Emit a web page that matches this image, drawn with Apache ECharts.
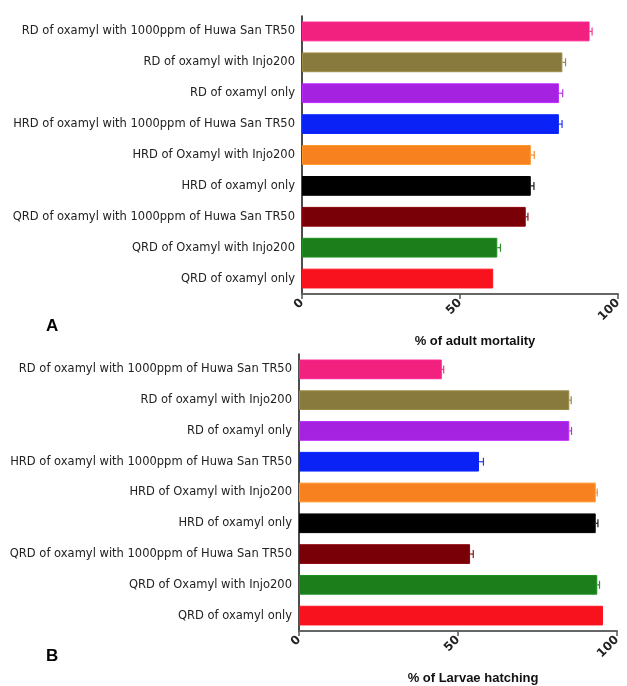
<!DOCTYPE html>
<html>
<head>
<meta charset="utf-8">
<script src="https://cdn.jsdelivr.net/npm/echarts@6/dist/echarts.min.js"></script>
<style>
html,body{margin:0;padding:0;background:#fff;}
#c{width:627px;height:686px;}
</style>
</head>
<body>
<div id="c"></div>
<script>
var categories = [
  'RD of oxamyl with 1000ppm of Huwa San TR50',
  'RD of oxamyl with Injo200',
  'RD of oxamyl only',
  'HRD of oxamyl with 1000ppm of Huwa San TR50',
  'HRD of Oxamyl with Injo200',
  'HRD of oxamyl only',
  'QRD of oxamyl with 1000ppm of Huwa San TR50',
  'QRD of Oxamyl with Injo200',
  'QRD of oxamyl only'
];
var barColors = ['#F2207F', '#877A3C', '#A522E0', '#0A22F5', '#F7801F', '#000000', '#7A0008', '#1B7E1B', '#F8121E'];
var mortality = [91.0, 82.4, 81.3, 81.3, 72.4, 72.4, 70.8, 61.8, 60.5];
var mortalityErr = [0.8, 1.0, 1.2, 1.0, 1.1, 1.0, 0.7, 1.0, 0];
var hatching = [44.9, 85.0, 85.0, 56.6, 93.3, 93.3, 53.8, 93.8, 95.6];
var hatchingErr = [0.6, 0.6, 0.7, 1.4, 0.5, 0.7, 1.0, 0.7, 0];
var xTicks = [0, 50, 100];

var chart = echarts.init(document.getElementById('c'), null, {renderer: 'canvas'});

function barData(vals) {
  return vals.map(function (v, i) {
    return {
      value: v,
      itemStyle: {
        color: barColors[i],
        borderColor: echarts.color.lift(barColors[i], -0.15),
        borderWidth: 1
      }
    };
  });
}
function errData(vals, errs) {
  return vals.map(function (v, i) { return [v, i, errs[i]]; });
}
function errRender(params, api) {
  var v = api.value(0), idx = api.value(1), e = api.value(2);
  var i = params.dataIndex;
  if (!e) return null;
  var p0 = api.coord([v, idx]);
  var p1 = api.coord([v + e, idx]);
  var col = barColors[i];
  var st = {stroke: echarts.color.lift(col, 0.1), lineWidth: 1.2};
  return {
    type: 'group',
    children: [
      {type: 'line', shape: {x1: p0[0], y1: p0[1], x2: p1[0], y2: p1[1]}, style: st},
      {type: 'line', shape: {x1: p1[0], y1: p1[1] - 4, x2: p1[0], y2: p1[1] + 4}, style: st}
    ]
  };
}

var labelFont = {fontFamily: 'DejaVu Sans', fontSize: 11.5, color: '#222'};

function yAxis(gi) {
  return {
    type: 'category', gridIndex: gi, data: categories, inverse: true,
    axisLine: {lineStyle: {color: '#111', width: 1.5}},
    axisTick: {alignWithLabel: true, length: 5, lineStyle: {color: '#333'}},
    axisLabel: Object.assign({margin: 7}, labelFont)
  };
}
function xAxis(gi, name) {
  return {
    type: 'value', gridIndex: gi, min: 0, max: 100, interval: 50,
    splitLine: {show: false},
    axisLine: {show: true, lineStyle: {color: '#666', width: 2}},
    axisTick: {show: true, length: 5, lineStyle: {color: '#555', width: 1.5}},
    axisLabel: {rotate: 45, margin: 7, fontFamily: 'DejaVu Sans', fontSize: 12, fontWeight: 'bold', color: '#222',
      customValues: xTicks},
    name: name, nameLocation: 'middle', nameGap: 41,
    nameTextStyle: {fontFamily: 'Liberation Sans', fontWeight: 'bold', fontSize: 13, color: '#111', padding: [0, 0, 0, 30]}
  };
}

chart.setOption({
  animation: false,
  backgroundColor: '#fff',
  grid: [
    {left: 302, right: 9, top: 16, height: 278},
    {left: 299, right: 10, top: 354, height: 280}
  ],
  xAxis: [xAxis(0, '% of adult mortality'), xAxis(1, '% of Larvae hatching')],
  yAxis: [yAxis(0), yAxis(1)],
  graphic: [
    {type: 'text', left: 46, top: 318, style: {text: 'A', font: 'bold 17px Liberation Sans', fill: '#000'}},
    {type: 'text', left: 46, top: 648, style: {text: 'B', font: 'bold 17px Liberation Sans', fill: '#000'}}
  ],
  series: [
    {type: 'bar', xAxisIndex: 0, yAxisIndex: 0, data: barData(mortality), barWidth: '64%'},
    {type: 'custom', xAxisIndex: 0, yAxisIndex: 0, data: errData(mortality, mortalityErr), renderItem: errRender, z: 3},
    {type: 'bar', xAxisIndex: 1, yAxisIndex: 1, data: barData(hatching), barWidth: '64%'},
    {type: 'custom', xAxisIndex: 1, yAxisIndex: 1, data: errData(hatching, hatchingErr), renderItem: errRender, z: 3}
  ]
});
</script>
</body>
</html>
